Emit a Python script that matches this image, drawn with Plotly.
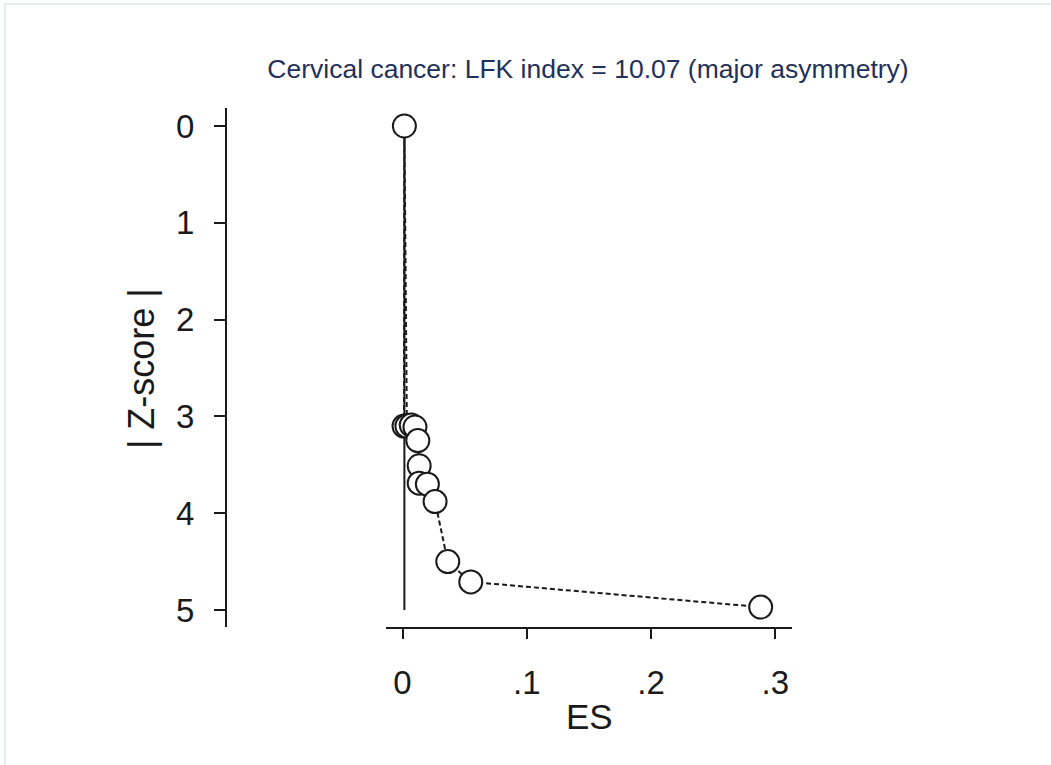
import plotly.graph_objects as go

# Doi plot for cervical cancer studies: effect size vs. |Z-score|
es = [0.0012, 0.0015, 0.0035, 0.0070, 0.0100, 0.0123, 0.0134, 0.0134,
      0.0200, 0.0262, 0.0364, 0.0549, 0.2882]
z_abs = [3.10, 0.00, 3.10, 3.09, 3.11, 3.25, 3.51, 3.69,
         3.70, 3.88, 4.50, 4.71, 4.97]

x_ticks = [0, 0.1, 0.2, 0.3]
x_ticklabels = ["0", ".1", ".2", ".3"]
y_ticks = [0, 1, 2, 3, 4, 5]

title_text = "Cervical cancer: LFK index = 10.07 (major asymmetry)"

# reference line at the effect size with the smallest |Z|
i_mode = z_abs.index(min(z_abs))
es_mode = es[i_mode]

W, H = 1051, 765
L, R, T, B = 226, 259, 108, 138
pw, ph = W - L - R, H - T - B


def px_x(p):
    return (p - L) / pw


def px_y(p):
    return (H - B - p) / ph


ink = "#1a1a1a"
font_fam = "Arial, Liberation Sans, sans-serif"

fig = go.Figure()

fig.add_trace(go.Scatter(
    x=[es_mode, es_mode], y=[0, 5], mode="lines",
    line=dict(color=ink, width=2), hoverinfo="skip", showlegend=False,
))

fig.add_trace(go.Scatter(
    x=es, y=z_abs, mode="lines+markers",
    line=dict(color=ink, width=2, dash="5px,3px"),
    marker=dict(size=23, color="white", line=dict(color=ink, width=2)),
    showlegend=False,
))

fig.update_layout(
    width=W, height=H,
    margin=dict(l=L, r=R, t=T, b=B),
    paper_bgcolor="white", plot_bgcolor="white",
    font=dict(family=font_fam, color=ink),
    title=dict(
        text=title_text, x=588 / W, y=1 - 69 / H,
        xref="container", yref="container",
        xanchor="center", yanchor="middle",
        font=dict(size=26.5, color="#22315a", family=font_fam),
    ),
    xaxis=dict(
        domain=[px_x(386), 1], range=[-0.0133, 0.3134],
        tickmode="array", tickvals=x_ticks, ticktext=x_ticklabels,
        ticks="outside", ticklen=10, tickwidth=1.5, tickcolor=ink,
        showline=True, linecolor=ink, linewidth=2,
        showgrid=False, zeroline=False,
        tickfont=dict(size=33, color=ink), ticklabelstandoff=15,
    ),
    yaxis=dict(
        range=[5.176, -0.186], anchor="free", position=0,
        tickmode="array", tickvals=y_ticks,
        ticks="outside", ticklen=11, tickwidth=1.5, tickcolor=ink,
        showline=True, linecolor=ink, linewidth=2,
        showgrid=False, zeroline=False,
        tickfont=dict(size=33, color=ink), ticklabelstandoff=13,
    ),
    annotations=[
        dict(text="ES", x=px_x(589), y=px_y(716), xref="paper", yref="paper",
             showarrow=False, xanchor="center", yanchor="middle",
             font=dict(size=35, color=ink)),
        dict(text="| Z-score |", x=px_x(141), y=px_y(369), xref="paper", yref="paper",
             showarrow=False, xanchor="center", yanchor="middle", textangle=-90,
             font=dict(size=36, color=ink)),
    ],
    shapes=[
        dict(type="rect", xref="paper", yref="paper",
             x0=px_x(5), x1=px_x(W + 20), y0=px_y(H + 20), y1=px_y(4),
             line=dict(color="#e6edf0", width=2), layer="below"),
    ],
)

fig.write_html("out.html")
